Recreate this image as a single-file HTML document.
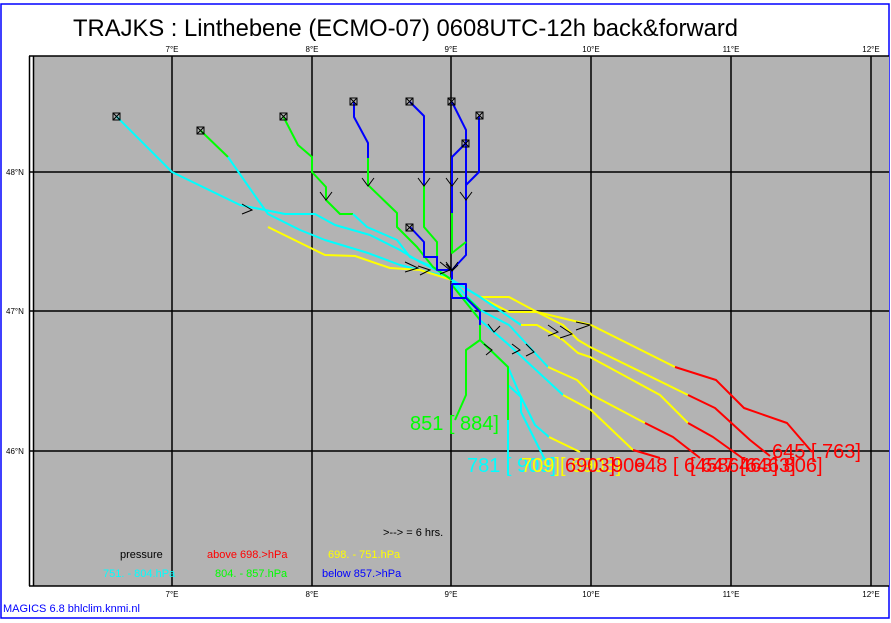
<!DOCTYPE html>
<html><head><style>html,body{margin:0;padding:0;background:#fff}svg{display:block}</style></head>
<body>
<svg width="891" height="623" viewBox="0 0 891 623" xmlns="http://www.w3.org/2000/svg" font-family="Liberation Sans, sans-serif">
<rect x="0" y="0" width="891" height="623" fill="#fff"/>
<rect x="1" y="4" width="888" height="614" fill="none" stroke="#0000ff" stroke-width="1.5"/>
<text x="73" y="36" font-size="24" textLength="665" lengthAdjust="spacingAndGlyphs">TRAJKS : Linthebene (ECMO-07) 0608UTC-12h back&amp;forward</text>
<rect x="34" y="56" width="855" height="530" fill="#b3b3b3"/>
<g stroke="#000" stroke-width="1.5" fill="none">
<line x1="29.5" y1="56" x2="29.5" y2="586"/>
<line x1="33.5" y1="56" x2="33.5" y2="586"/>
<line x1="29" y1="56" x2="889" y2="56"/>
<line x1="29" y1="586" x2="889" y2="586"/>
<line x1="172" y1="56" x2="172" y2="586"/><line x1="312" y1="56" x2="312" y2="586"/>
<line x1="451" y1="56" x2="451" y2="586"/><line x1="591" y1="56" x2="591" y2="586"/>
<line x1="731" y1="56" x2="731" y2="586"/><line x1="871" y1="56" x2="871" y2="586"/>
<line x1="29" y1="172" x2="889" y2="172"/><line x1="29" y1="311" x2="889" y2="311"/><line x1="29" y1="451" x2="889" y2="451"/>
</g>
<g font-size="8" fill="#000" text-anchor="middle">
<text x="172" y="52">7°E</text><text x="312" y="52">8°E</text><text x="451" y="52">9°E</text><text x="591" y="52">10°E</text><text x="731" y="52">11°E</text><text x="871" y="52">12°E</text>
<text x="172" y="597">7°E</text><text x="312" y="597">8°E</text><text x="451" y="597">9°E</text><text x="591" y="597">10°E</text><text x="731" y="597">11°E</text><text x="871" y="597">12°E</text>
</g>
<g font-size="8"><text x="6" y="175">48°N</text><text x="6" y="314">47°N</text><text x="6" y="454">46°N</text></g>
<g fill="none" stroke-width="2" stroke-linejoin="round">
<polyline stroke="#00ffff" points="116,116 172,172 240,205 285,214 315,214 335,225 370,235 400,250 420,262 440,272 452,280"/>
<polyline stroke="#00ff00" points="200,130 228,157"/>
<polyline stroke="#00ffff" points="228,157 258,200 268,214 300,230 325,240 368,253 400,265 440,275 452,280"/>
<polyline stroke="#ffff00" points="268,227 325,255 355,256 390,268 420,270 452,280"/>
<polyline stroke="#00ff00" points="283,116 298,145 312,157 312,172 326,187 326,200 340,214 353,214"/>
<polyline stroke="#00ffff" points="353,214 367,227 397,240 410,257 433,267 452,280"/>
<polyline stroke="#0000ff" points="354,102 354,117 368,143 368,158"/>
<polyline stroke="#00ff00" points="368,158 368,185 397,213 397,227 417,247 433,267 452,280"/>
<polyline stroke="#0000ff" points="410,102 424,116 424,185"/>
<polyline stroke="#00ff00" points="424,185 424,227 437,242 437,256"/>
<polyline stroke="#0000ff" points="437,256 437,270 452,270 452,280"/>
<polyline stroke="#0000ff" points="452,102 466,130 466,255 452,270"/>
<polyline stroke="#0000ff" points="479,116 479,172 466,185"/>
<polyline stroke="#0000ff" points="466,143 452,157 452,213"/>
<polyline stroke="#00ff00" points="452,213 452,253 466,242"/>
<polyline stroke="#0000ff" points="410,227 424,242 424,257 437,257 437,270"/>
<polyline stroke="#00ffff" points="452,280 480,297"/>
<polyline stroke="#ffff00" points="480,297 509,297 537,312 591,325 675,367"/>
<polyline stroke="#ff0000" points="675,367 716,380 744,408 787,423 812,452"/>
<polyline stroke="#ffff00" points="480,297 509,312 537,312 563,325 578,340 590,347 688,395"/>
<polyline stroke="#ff0000" points="688,395 715,408 750,440 770,456"/>
<polyline stroke="#00ffff" points="452,280 480,297 521,325"/>
<polyline stroke="#ffff00" points="521,325 537,325 563,340 578,353 590,357 660,395 688,423"/>
<polyline stroke="#ff0000" points="688,423 713,437 745,460"/>
<polyline stroke="#00ffff" points="452,280 480,310 509,325 548,367"/>
<polyline stroke="#ffff00" points="548,367 577,380 592,395 645,423"/>
<polyline stroke="#ff0000" points="645,423 673,437 700,458"/>
<polyline stroke="#00ffff" points="452,282 480,320 509,345 563,395"/>
<polyline stroke="#ffff00" points="563,395 591,410 633,450"/>
<polyline stroke="#ff0000" points="633,450 660,458"/>
<polyline stroke="#00ffff" points="480,340 508,367 520,395 535,425 549,437"/>
<polyline stroke="#ffff00" points="549,437 580,452"/>
<polyline stroke="#00ffff" points="508,385 521,397 521,412 535,440 545,460"/>
<polyline stroke="#00ff00" points="452,285 480,320 480,340 508,367 508,420"/>
<polyline stroke="#00ffff" points="508,420 508,475"/>
<polyline stroke="#00ff00" points="466,297 480,310 480,340 466,350 466,395 455,420"/>
<polyline stroke="#0000ff" points="452,284 466,284 466,298 452,298 452,284"/>
<polyline stroke="#0000ff" points="466,298 480,312 480,325"/>
</g>
<g stroke="#000" stroke-width="1" fill="none">
<rect x="113" y="113" width="7" height="7"/><rect x="197" y="127" width="7" height="7"/><rect x="280" y="113" width="7" height="7"/>
<rect x="350" y="98" width="7" height="7"/><rect x="406" y="98" width="7" height="7"/><rect x="448" y="98" width="7" height="7"/>
<rect x="476" y="112" width="7" height="7"/><rect x="462" y="140" width="7" height="7"/><rect x="406" y="224" width="7" height="7"/>
<path d="M113,113 L120,120 M120,113 L113,120 M197,127 L204,134 M204,127 L197,134 M280,113 L287,120 M287,113 L280,120 M350,98 L357,105 M357,98 L350,105 M406,98 L413,105 M413,98 L406,105 M448,98 L455,105 M455,98 L448,105 M476,112 L483,119 M483,112 L476,119 M462,140 L469,147 M469,140 L462,147 M406,224 L413,231 M413,224 L406,231"/>
<path d="M362,178 L368,186 L374,178 M418,178 L424,186 L430,178 M446,178 L452,186 L458,178 M320,192 L326,200 L332,192 M460,192 L466,200 L472,192"/>
<path d="M242,204 L252,210 L242,214 M405,262 L418,268 L405,272 M418,266 L430,270 L420,275 M440,262 L450,270 L440,274 M446,262 L452,270 L458,262 M446,264 L452,271 L458,265"/>
<path d="M576,322 L590,325 L576,330 M488,324 L494,332 L500,326 M484,344 L492,350 L486,355 M512,344 L520,350 L512,354 M526,344 L534,352 L526,356 M548,325 L558,332 L548,336 M560,326 L572,334 L560,338"/>
</g>
<g font-size="20">
<text x="410" y="430" fill="#00ff00">851 [ 884]</text>
<text x="467" y="472" fill="#00ffff">781 [ 909]</text>
<text x="521" y="472" fill="#ffff00">709]</text>
<text x="560" y="472" fill="#ffff00">[ 6903]</text>
<text x="565" y="472" fill="#ff0000">6903]</text>
<text x="612" y="472" fill="#ff0000">909</text>
<text x="634" y="472" fill="#ff0000">648 [ 6458</text>
<text x="690" y="472" fill="#ff0000">[ 647 [6463]</text>
<text x="728" y="472" fill="#ff0000">6463] 806]</text>
<text x="772" y="458" fill="#ff0000">645 [ 763]</text>
</g>
<g font-size="11">
<text x="383" y="536">&gt;--&gt; =  6 hrs.</text>
<text x="120" y="558" fill="#000">pressure</text>
<text x="207" y="558" fill="#ff0000">above  698.&gt;hPa</text>
<text x="328" y="558" fill="#ffff00">698. -   751.hPa</text>
<text x="103" y="577" fill="#00ffff">751. -   804.hPa</text>
<text x="215" y="577" fill="#00ff00">804. -   857.hPa</text>
<text x="322" y="577" fill="#0000ff">below  857.&gt;hPa</text>
</g>
<text x="3" y="612" font-size="11" fill="#0000ff">MAGICS 6.8 bhlclim.knmi.nl</text>
</svg>
</body></html>
